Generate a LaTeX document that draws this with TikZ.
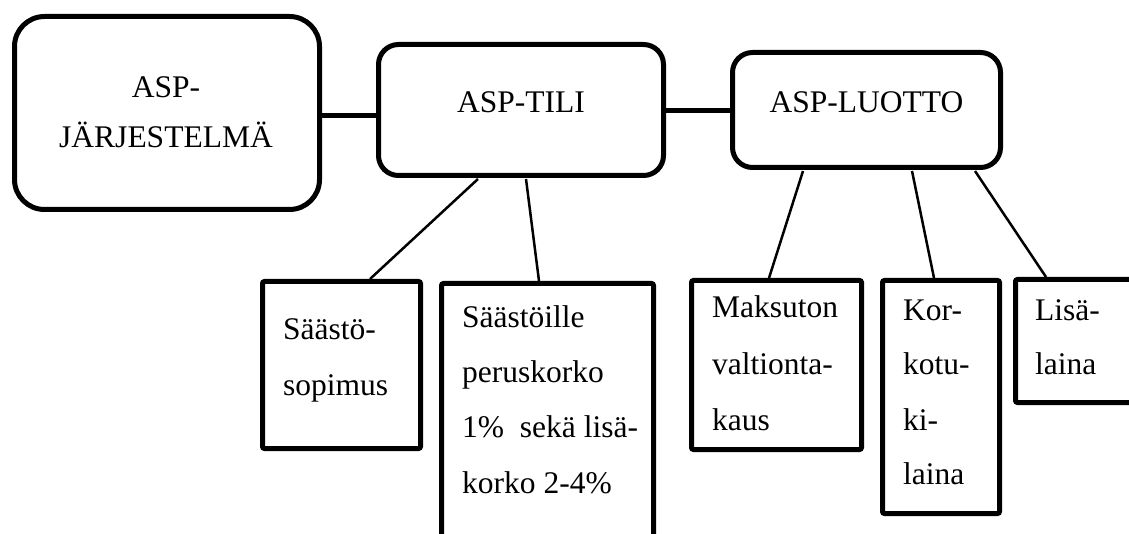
\documentclass[tikz,border=0pt]{standalone}
\usepackage{fontspec}
\setmainfont{Liberation Serif}
\usetikzlibrary{calc}
\begin{document}
\begin{tikzpicture}[x=1pt,y=-1pt,
  topbox/.style={draw=black,line width=5pt,rectangle,inner sep=0pt,fill=white},
  subbox/.style={draw=black,line width=5pt,rectangle,rounded corners=2pt,inner sep=0pt},
  thickline/.style={draw=black,line width=5pt},
  thinline/.style={draw=black,line width=2.5pt},
  txt/.style={inner sep=0pt,font=\fontsize{31.5}{38}\selectfont}]
\useasboundingbox (0,0) rectangle (1129,534);
\clip (0,0) rectangle (1129,534);
\fill[white] (0,0) rectangle (1129,534);
% top boxes
\node[topbox,rounded corners=30pt,minimum width=305pt,minimum height=193pt] (B1) at (167,113) {};
\node[topbox,rounded corners=20pt,minimum width=285pt,minimum height=131pt] (B2) at (521,110) {};
\node[topbox,rounded corners=20pt,minimum width=268pt,minimum height=115pt] (B3) at (866.5,110) {};
% lower boxes
\node[subbox,minimum width=158pt,minimum height=167pt] (S1) at (341.5,365) {};
\node[subbox,minimum width=212pt,minimum height=274pt] (S2) at (547.5,420.5) {};
\node[subbox,minimum width=170pt,minimum height=169pt] (L1) at (776.5,365) {};
\node[subbox,minimum width=117pt,minimum height=233pt] (L2) at (941,397) {};
\node[subbox,minimum width=142pt,minimum height=123pt] (L3) at (1086.5,341) {};
% horizontal connectors
\coordinate (h1) at (0,116);
\coordinate (h2) at (0,111);
\draw[thickline] (B1.east |- h1) -- (B2.west |- h1);
\draw[thickline] (B2.east |- h2) -- (B3.west |- h2);
% thin connectors
\draw[thinline] ($(B2.south)+(-43,1)$) -- ($(S1.north)+(28.5,0)$);
\draw[thinline] ($(B2.south)+(5,1)$) -- ($(S2.north)+(-8.5,0)$);
\draw[thinline] ($(B3.south)+(-63.5,1)$) -- ($(L1.north)+(-7.5,0)$);
\draw[thinline] ($(B3.south)+(45.5,1)$) -- ($(L2.north)+(-7,0)$);
\draw[thinline] ($(B3.south)+(108.5,1)$) -- ($(L3.north)+(-40.5,0)$);
% texts
\node[txt,anchor=base] (t1a) at (166,98) {ASP-};
\node[txt,anchor=base] (t1b) at (166,148) {JÄRJESTELMÄ};
\node[txt,anchor=base] (t2) at (521,113) {ASP-TILI};
\node[txt,anchor=base] (t3) at (866.5,113) {ASP-LUOTTO};
\node[txt,anchor=base west] (s1a) at (283,340) {Säästö-};
\node[txt,anchor=base west] (s1b) at (283,395) {sopimus};
\node[txt,anchor=base west] (s2a) at (462,327) {Säästöille};
\node[txt,anchor=base west] (s2b) at (462,382) {peruskorko};
\node[txt,anchor=base west] (s2c) at (462,437) {1\%\ \ sekä lisä-};
\node[txt,anchor=base west] (s2d) at (462,493) {korko 2-4\%};
\node[txt,anchor=base west] (l1a) at (712,318) {Maksuton};
\node[txt,anchor=base west] (l1b) at (712,374) {valtionta-};
\node[txt,anchor=base west] (l1c) at (712,430) {kaus};
\node[txt,anchor=base west] (l2a) at (903,320) {Kor-};
\node[txt,anchor=base west] (l2b) at (903,374) {kotu-};
\node[txt,anchor=base west] (l2c) at (903,430) {ki-};
\node[txt,anchor=base west] (l2d) at (903,484) {laina};
\node[txt,anchor=base west] (l3a) at (1035,320) {Lisä-};
\node[txt,anchor=base west] (l3b) at (1035,374) {laina};
\end{tikzpicture}
\end{document}
